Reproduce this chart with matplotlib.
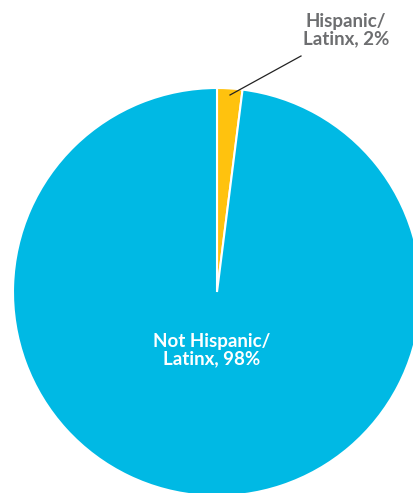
import matplotlib.pyplot as plt

labels = ["Hispanic/\nLatinx, 2%", "Not Hispanic/\nLatinx, 98%"]
values = [2, 98]
colors = ["#FFC20E", "#00B9E4"]

W, H = 414, 493
fig = plt.figure(figsize=(W / 100, H / 100), dpi=100)
ax = fig.add_axes([0, 0, 1, 1])

# pie placed in pixel coords (y measured from bottom)
cx, cy, r = 217, H - 292, 204
wedges, _ = ax.pie(values, colors=colors, startangle=90, counterclock=False,
                   center=(cx, cy), radius=r,
                   wedgeprops=dict(edgecolor="white", linewidth=1.5))

ax.set_xlim(0, W)
ax.set_ylim(0, H)
ax.set_aspect("equal")
ax.axis("off")

# leader line for the small slice
ax.plot([230, 301], [H - 95, H - 56], color="#222222", lw=0.9)
ax.text(346, H - 30, labels[0], ha="center", va="center", fontsize=13.5,
        fontweight="bold", color="#6D6E70", family="Lato", linespacing=1.05)
ax.text(212, H - 350, labels[1], ha="center", va="center", fontsize=13.5,
        fontweight="bold", color="white", family="Lato", linespacing=1.05)

fig.savefig("out.png", dpi=100)
